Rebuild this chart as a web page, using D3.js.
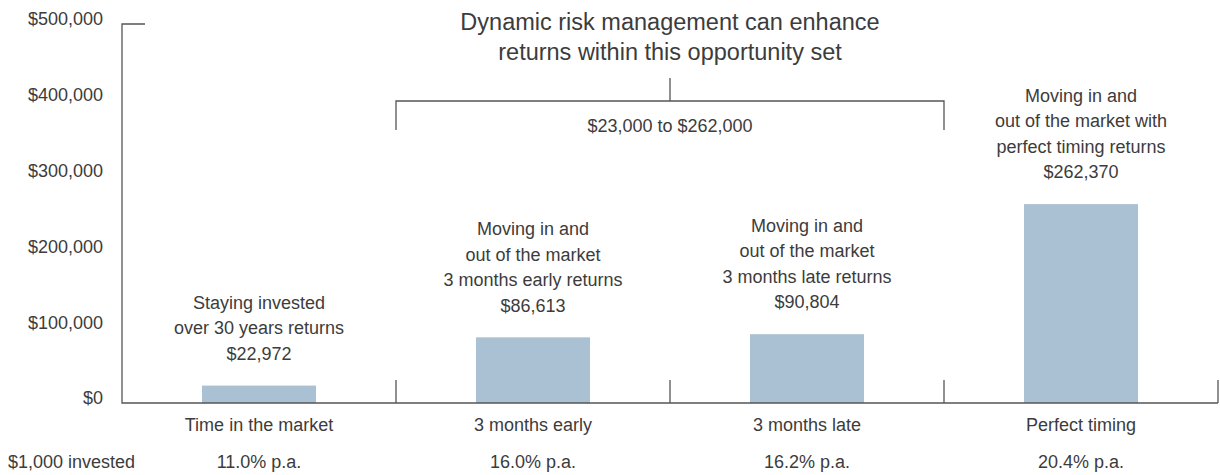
<!DOCTYPE html>
<html>
<head>
<meta charset="utf-8">
<script src="https://cdn.jsdelivr.net/npm/d3@7"></script>
<style>
  body { margin: 0; background: #fff; }
  text { font-family: "Liberation Sans", Arial, sans-serif; fill: #3c3c3c; }
</style>
</head>
<body>
<div id="chart"></div>
<script>
// chart data
var categories = ["Time in the market", "3 months early", "3 months late", "Perfect timing"];
var values = [22972, 86613, 90804, 262370];
var rates = ["11.0% p.a.", "16.0% p.a.", "16.2% p.a.", "20.4% p.a."];
var notes = [
  ["Staying invested", "over 30 years returns", "$22,972"],
  ["Moving in and", "out of the market", "3 months early returns", "$86,613"],
  ["Moving in and", "out of the market", "3 months late returns", "$90,804"],
  ["Moving in and", "out of the market with", "perfect timing returns", "$262,370"]
];
var yTicks = [0, 100000, 200000, 300000, 400000, 500000];
var titleLines = ["Dynamic risk management can enhance", "returns within this opportunity set"];
var rangeLabel = "$23,000 to $262,000";
var rowLabel = "$1,000 invested";

var svgWidth = 1220;
var svgHeight = 475;
var fs = "18px";

var svg = d3.select("#chart")
  .append("svg")
  .attr("width", svgWidth)
  .attr("height", svgHeight);

var x = d3.scaleBand()
  .domain(categories)
  .range([122, 1218])
  .padding(0);

var y = d3.scaleLinear()
  .domain([0, 500000])
  .range([403, 24]);

var barW = x.bandwidth() * 0.416;
var lineH = 25.5;

// y labels
svg.selectAll(".ylab")
  .data(yTicks)
  .enter()
  .append("text")
  .attr("x", 103)
  .attr("y", d => y(d) - 5)
  .attr("dy", "0.35em")
  .attr("text-anchor", "end")
  .style("font-size", fs)
  .text(d => d3.format("$,")(d));

// bars
svg.selectAll(".bar")
  .data(values)
  .enter()
  .append("rect")
  .attr("x", (d, i) => x(categories[i]) + x.bandwidth() / 2 - barW / 2)
  .attr("y", d => y(d))
  .attr("width", barW)
  .attr("height", d => y(0) - y(d))
  .attr("fill", "#a9c1d2");

// axis lines
var axisColor = "#555";
svg.append("path")
  .attr("d", `M145,${y(500000)}H122V${y(0)}H${x.range()[1]}`)
  .attr("fill", "none")
  .attr("stroke", axisColor)
  .attr("stroke-width", 1.3);

var dividers = categories.slice(1).map(c => x(c)).concat([x.range()[1]]);
svg.selectAll(".div")
  .data(dividers)
  .enter()
  .append("line")
  .attr("x1", d => d).attr("x2", d => d)
  .attr("y1", y(0) - 23).attr("y2", y(0))
  .attr("stroke", axisColor)
  .attr("stroke-width", 1.3);

// bar annotations
notes.forEach(function(lines, i) {
  var cx = x(categories[i]) + x.bandwidth() / 2;
  var bottom = y(values[i]) - 32;
  svg.append("g").selectAll("text")
    .data(lines)
    .enter()
    .append("text")
    .attr("x", cx)
    .attr("y", (d, j) => bottom - (lines.length - 1 - j) * lineH)
    .attr("dy", "0.35em")
    .attr("text-anchor", "middle")
    .style("font-size", fs)
    .text(d => d);
});

// category labels and rates
svg.selectAll(".cat")
  .data(categories)
  .enter()
  .append("text")
  .attr("x", d => x(d) + x.bandwidth() / 2)
  .attr("y", 425)
  .attr("dy", "0.35em")
  .attr("text-anchor", "middle")
  .style("font-size", fs)
  .text(d => d);

svg.selectAll(".rate")
  .data(rates)
  .enter()
  .append("text")
  .attr("x", (d, i) => x(categories[i]) + x.bandwidth() / 2)
  .attr("y", 462)
  .attr("dy", "0.35em")
  .attr("text-anchor", "middle")
  .style("font-size", fs)
  .text(d => d);

svg.append("text")
  .attr("x", 8)
  .attr("y", 462)
  .attr("dy", "0.35em")
  .style("font-size", fs)
  .text(rowLabel);

// bracket over the middle two categories
var bx0 = x(categories[1]);
var bx1 = x(categories[3]);
var bmid = (bx0 + bx1) / 2;
svg.append("path")
  .attr("d", `M${bx0},130V101H${bx1}V130M${bmid},101V78`)
  .attr("fill", "none")
  .attr("stroke", axisColor)
  .attr("stroke-width", 1.3);

svg.append("text")
  .attr("x", bmid)
  .attr("y", 126)
  .attr("dy", "0.35em")
  .attr("text-anchor", "middle")
  .style("font-size", fs)
  .text(rangeLabel);

svg.selectAll(".title")
  .data(titleLines)
  .enter()
  .append("text")
  .attr("x", bmid)
  .attr("y", (d, i) => 22 + i * 30)
  .attr("dy", "0.35em")
  .attr("text-anchor", "middle")
  .style("font-size", "23.5px")
  .text(d => d);
</script>
</body>
</html>
